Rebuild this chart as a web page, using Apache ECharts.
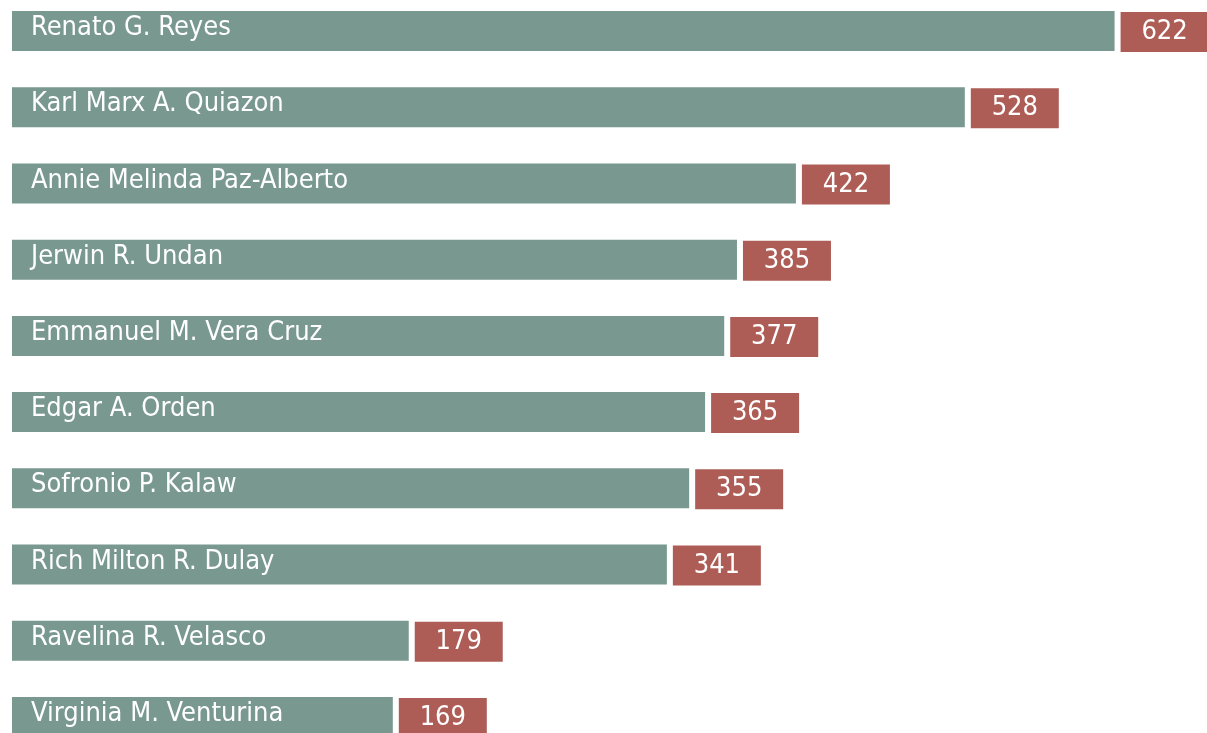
<!DOCTYPE html>
<html>
<head>
<meta charset="utf-8">
<title>Votes</title>
<script src="https://cdn.jsdelivr.net/npm/echarts@6/dist/echarts.min.js"></script>
<style>
	html, body { margin: 0; padding: 0; background: #fff; }
	#chart { width: 1207px; height: 733px; }
</style>
</head>
<body>
<div id="chart"></div>
<script>
// 数据部分
const names = [
	"Renato G. Reyes",
	"Karl Marx A. Quiazon",
	"Annie Melinda Paz-Alberto",
	"Jerwin R. Undan",
	"Emmanuel M. Vera Cruz",
	"Edgar A. Orden",
	"Sofronio P. Kalaw",
	"Rich Milton R. Dulay",
	"Ravelina R. Velasco",
	"Virginia M. Venturina"
];
const votes = [622, 528, 422, 385, 377, 365, 355, 341, 179, 169];

// 轴的起点（条形从这里开始画）
const axisMin = -70;
const axisMax = 680;

const labelFont = '"Liberation Sans Narrow", "DejaVu Sans Condensed", "Noto Sans", sans-serif';

$ready();

function $ready() {
	let chart = echarts.init(document.getElementById("chart"));
	chart.setOption({
		animation: false,
		backgroundColor: "#ffffff",
		grid: {
			left: 12,
			right: 0,
			top: -7,
			height: 762,
			outerBoundsMode: "none",
			containLabel: false
		},
		xAxis: {
			type: "value",
			min: axisMin,
			max: axisMax,
			startValue: axisMin,
			show: false,
			splitLine: { show: false }
		},
		yAxis: {
			type: "category",
			data: names,
			inverse: true,
			show: false
		},
		series: [
			{
				// 数值标签（红色方块）
				name: "votes",
				type: "bar",
				data: votes,
				barWidth: 40,
				itemStyle: { color: "#789890" },
				label: {
					show: true,
					position: "right",
					distance: 6,
					formatter: "{v|{c}}",
					rich: {
						v: {
							width: 88,
							height: 40,
							lineHeight: 40,
							align: "center",
							backgroundColor: "#ad5d55",
							color: "#ffffff",
							fontSize: 27,
							fontFamily: labelFont
						}
					},
					offset: [0, 1]
				}
			},
			{
				// 名字标签（条形内部左侧）
				name: "names",
				type: "bar",
				data: votes,
				barWidth: 40,
				barGap: "-100%",
				itemStyle: { color: "rgba(0,0,0,0)" },
				label: {
					show: true,
					position: "insideLeft",
					distance: 19,
					formatter: function (p) { return p.name; },
					color: "#ffffff",
					fontSize: 27,
					fontFamily: labelFont,
					offset: [0, -3]
				}
			}
		]
	});
}
</script>
</body>
</html>
